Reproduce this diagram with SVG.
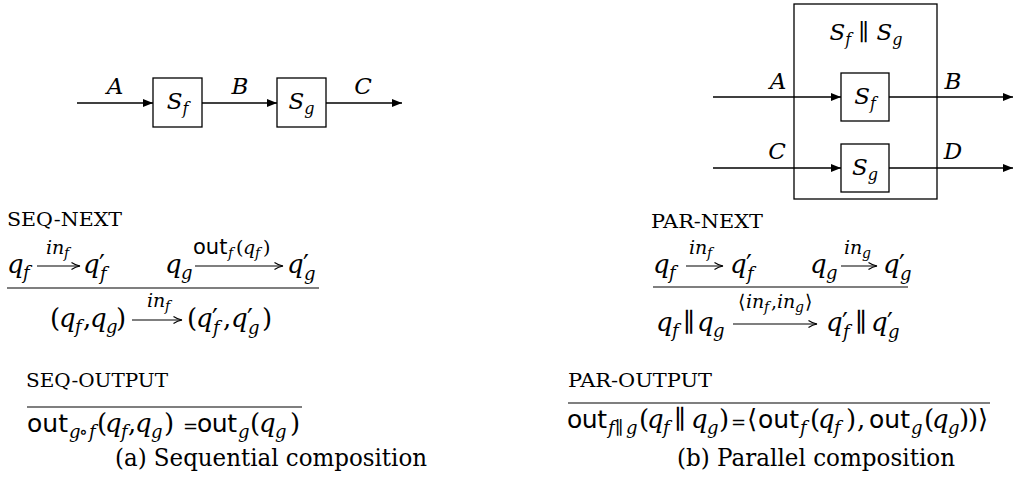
<svg xmlns="http://www.w3.org/2000/svg" width="1014" height="480" viewBox="0 0 1014 480">
<defs>
<marker id="tri" viewBox="0 0 10 8" refX="10" refY="4" markerWidth="10" markerHeight="8" markerUnits="userSpaceOnUse" orient="auto">
<path d="M0,0 L10,4 L0,8 z" fill="#000"/>
</marker>
<marker id="mar" viewBox="0 0 10 10" refX="9.5" refY="5" markerWidth="10" markerHeight="10" markerUnits="userSpaceOnUse" orient="auto">
<path d="M1,1.5 Q5,4.2 9.5,5 Q5,5.8 1,8.5" fill="none" stroke="#000" stroke-width="1.2"/>
</marker>
</defs>
<g id="seq-Sf"><rect x="153" y="78" width="49" height="49" fill="#fff" stroke="#000" stroke-width="1.3"/><text font-family="DejaVu Serif" font-style="italic" font-size="23" x="177.5" y="109" text-anchor="middle">S<tspan font-size="16" dy="5">f</tspan></text></g>
<g id="seq-Sg"><rect x="277" y="78" width="49" height="49" fill="#fff" stroke="#000" stroke-width="1.3"/><text font-family="DejaVu Serif" font-style="italic" font-size="23" x="301.5" y="109" text-anchor="middle">S<tspan font-size="16" dy="5">g</tspan></text></g>
<g id="par-box"><rect x="794" y="4" width="143" height="195" fill="none" stroke="#000" stroke-width="1.3"/><text font-family="DejaVu Serif" font-style="italic" font-size="23" x="866" y="40" text-anchor="middle">S<tspan font-size="16" dy="5">f</tspan><tspan font-style="normal" dy="-5"> &#x2225; </tspan>S<tspan font-size="16" dy="5">g</tspan></text></g>
<g id="par-Sf"><rect x="841" y="73" width="48" height="48" fill="#fff" stroke="#000" stroke-width="1.3"/><text font-family="DejaVu Serif" font-style="italic" font-size="23" x="865" y="104" text-anchor="middle">S<tspan font-size="16" dy="5">f</tspan></text></g>
<g id="par-Sg"><rect x="841" y="144" width="48" height="48" fill="#fff" stroke="#000" stroke-width="1.3"/><text font-family="DejaVu Serif" font-style="italic" font-size="23" x="865" y="175" text-anchor="middle">S<tspan font-size="16" dy="5">g</tspan></text></g>
<g id="connectors" stroke="#000" stroke-width="1.3" fill="none">
<line x1="77" y1="103" x2="153" y2="103" marker-end="url(#tri)"/>
<line x1="202" y1="103" x2="277" y2="103" marker-end="url(#tri)"/>
<line x1="326" y1="103" x2="402" y2="103" marker-end="url(#tri)"/>
<line x1="713" y1="97" x2="841" y2="97" marker-end="url(#tri)"/>
<line x1="889" y1="97" x2="1013" y2="97" marker-end="url(#tri)"/>
<line x1="713" y1="168" x2="841" y2="168" marker-end="url(#tri)"/>
<line x1="889" y1="168" x2="1013" y2="168" marker-end="url(#tri)"/>
</g>
<g id="edge-labels" font-family="DejaVu Serif" font-style="italic" font-size="23">
<text x="115" y="94" text-anchor="middle">A</text>
<text x="240" y="94" text-anchor="middle">B</text>
<text x="363" y="94" text-anchor="middle">C</text>
<text x="778" y="89" text-anchor="middle">A</text>
<text x="953" y="89" text-anchor="middle">B</text>
<text x="777" y="159" text-anchor="middle">C</text>
<text x="953" y="159" text-anchor="middle">D</text>
</g>
<g id="seq-next">
<text font-family="DejaVu Serif" font-size="18" x="7" y="226" textLength="115" lengthAdjust="spacingAndGlyphs">SEQ-NEXT</text>
<g font-family="DejaVu Serif" font-style="italic" font-size="26">
<text><tspan x="7" y="273">q</tspan><tspan font-size="18" x="23" y="279">f</tspan></text>
<text font-size="19"><tspan x="46" y="254">in</tspan><tspan font-size="14" x="64" y="258">f</tspan></text>
<text><tspan x="83" y="273">q</tspan><tspan font-style="normal" x="99" y="273">&#x2032;</tspan><tspan font-size="18" x="100" y="280">f</tspan></text>
<text><tspan x="165" y="273">q</tspan><tspan font-size="18" x="181" y="279">g</tspan></text>
<text font-size="19"><tspan font-family="DejaVu Sans" font-style="normal" font-size="21" x="193" y="254">out</tspan><tspan font-size="14" x="228" y="258">f</tspan><tspan font-style="normal" x="236" y="254">(</tspan><tspan x="243" y="254">q</tspan><tspan font-size="14" x="255" y="258">f</tspan><tspan font-style="normal" x="263" y="254">)</tspan></text>
<text><tspan x="287" y="273">q</tspan><tspan font-style="normal" x="303" y="273">&#x2032;</tspan><tspan font-size="18" x="304" y="280">g</tspan></text>
<text><tspan font-style="normal" x="50" y="327">(</tspan><tspan x="59" y="327">q</tspan><tspan font-size="18" x="75" y="333">f</tspan><tspan font-style="normal" x="83" y="327">,</tspan><tspan x="90" y="327">q</tspan><tspan font-size="18" x="106" y="333">g</tspan><tspan font-style="normal" x="116" y="327">)</tspan></text>
<text font-size="19"><tspan x="147" y="307">in</tspan><tspan font-size="14" x="165" y="311">f</tspan></text>
<text><tspan font-style="normal" x="187" y="327">(</tspan><tspan x="196" y="327">q</tspan><tspan font-style="normal" x="212" y="327">&#x2032;</tspan><tspan font-size="18" x="213" y="334">f</tspan><tspan font-style="normal" x="223" y="327">,</tspan><tspan x="231" y="327">q</tspan><tspan font-style="normal" x="247" y="327">&#x2032;</tspan><tspan font-size="18" x="248" y="334">g</tspan><tspan font-style="normal" x="262" y="327">)</tspan></text>
</g>
<g stroke="#000" stroke-width="1.2">
<line x1="37" y1="266" x2="80" y2="266" marker-end="url(#mar)"/>
<line x1="195" y1="266" x2="283" y2="266" marker-end="url(#mar)"/>
<line x1="7" y1="288" x2="319" y2="288"/>
<line x1="132" y1="320" x2="182" y2="320" marker-end="url(#mar)"/>
</g>
</g>
<g id="seq-output">
<text font-family="DejaVu Serif" font-size="18" x="26" y="387" textLength="142" lengthAdjust="spacingAndGlyphs">SEQ-OUTPUT</text>
<line x1="27" y1="407" x2="302" y2="407" stroke="#000" stroke-width="1.2"/>
<text font-family="DejaVu Serif" font-style="italic" font-size="26"><tspan font-family="DejaVu Sans" font-style="normal" font-size="25" x="27" y="432" textLength="41">out</tspan><tspan font-size="18" x="69" y="438">g</tspan><tspan font-size="18" font-style="normal" x="79" y="438">&#x2218;</tspan><tspan font-size="18" x="89" y="438">f</tspan><tspan font-style="normal" x="97" y="432">(</tspan><tspan x="105" y="432">q</tspan><tspan font-size="18" x="121" y="438">f</tspan><tspan font-style="normal" x="128" y="432">,</tspan><tspan x="135" y="432">q</tspan><tspan font-size="18" x="151" y="438">g</tspan><tspan font-style="normal" x="164" y="432">)</tspan><tspan font-family="DejaVu Sans" font-style="normal" font-size="18" x="183" y="432">=</tspan><tspan font-family="DejaVu Sans" font-style="normal" font-size="25" x="197" y="432" textLength="40">out</tspan><tspan font-size="18" x="238" y="438">g</tspan><tspan font-style="normal" x="250" y="432">(</tspan><tspan x="259" y="432">q</tspan><tspan font-size="18" x="275" y="438">g</tspan><tspan font-style="normal" x="290" y="432">)</tspan></text>
</g>
<g id="par-next">
<text font-family="DejaVu Serif" font-size="18" x="651" y="228" textLength="112" lengthAdjust="spacingAndGlyphs">PAR-NEXT</text>
<g font-family="DejaVu Serif" font-style="italic" font-size="26">
<text><tspan x="653" y="273">q</tspan><tspan font-size="18" x="669" y="279">f</tspan></text>
<text font-size="19"><tspan x="689" y="254">in</tspan><tspan font-size="14" x="707" y="258">f</tspan></text>
<text><tspan x="730" y="273">q</tspan><tspan font-style="normal" x="746" y="273">&#x2032;</tspan><tspan font-size="18" x="747" y="280">f</tspan></text>
<text><tspan x="810" y="273">q</tspan><tspan font-size="18" x="826" y="279">g</tspan></text>
<text font-size="19"><tspan x="844" y="254">in</tspan><tspan font-size="14" x="862" y="258">g</tspan></text>
<text><tspan x="883" y="273">q</tspan><tspan font-style="normal" x="899" y="273">&#x2032;</tspan><tspan font-size="18" x="900" y="280">g</tspan></text>
<text><tspan x="656" y="331">q</tspan><tspan font-size="18" x="672" y="337">f</tspan><tspan font-style="normal" x="683" y="331">&#x2225;</tspan><tspan x="697" y="331">q</tspan><tspan font-size="18" x="713" y="337">g</tspan></text>
<text font-size="19"><tspan font-style="normal" x="738" y="308">&#x27E8;</tspan><tspan x="746" y="308">in</tspan><tspan font-size="14" x="764" y="312">f</tspan><tspan font-style="normal" x="771" y="308">,</tspan><tspan x="777" y="308">in</tspan><tspan font-size="14" x="795" y="312">g</tspan><tspan font-style="normal" x="805" y="308">&#x27E9;</tspan></text>
<text><tspan x="826" y="331">q</tspan><tspan font-style="normal" x="842" y="331">&#x2032;</tspan><tspan font-size="18" x="843" y="338">f</tspan><tspan font-style="normal" x="855" y="331">&#x2225;</tspan><tspan x="871" y="331">q</tspan><tspan font-style="normal" x="887" y="331">&#x2032;</tspan><tspan font-size="18" x="888" y="338">g</tspan></text>
</g>
<g stroke="#000" stroke-width="1.2">
<line x1="686" y1="266" x2="723" y2="266" marker-end="url(#mar)"/>
<line x1="841" y1="266" x2="877" y2="266" marker-end="url(#mar)"/>
<line x1="653" y1="287" x2="908" y2="287"/>
<line x1="733" y1="324" x2="817" y2="324" marker-end="url(#mar)"/>
</g>
</g>
<g id="par-output">
<text font-family="DejaVu Serif" font-size="18" x="568" y="387" textLength="144" lengthAdjust="spacingAndGlyphs">PAR-OUTPUT</text>
<line x1="568" y1="403" x2="990" y2="403" stroke="#000" stroke-width="1.2"/>
<text font-family="DejaVu Serif" font-style="italic" font-size="26"><tspan font-family="DejaVu Sans" font-style="normal" font-size="25" x="567" y="428" textLength="40">out</tspan><tspan font-size="18" x="608" y="434">f</tspan><tspan font-size="18" font-style="normal" x="615" y="434">&#x2225;</tspan><tspan font-size="18" x="626" y="434">g</tspan><tspan font-style="normal" x="639" y="428">(</tspan><tspan x="647" y="428">q</tspan><tspan font-size="18" x="663" y="434">f</tspan><tspan font-style="normal" x="674" y="428">&#x2225;</tspan><tspan x="691" y="428">q</tspan><tspan font-size="18" x="707" y="434">g</tspan><tspan font-style="normal" x="719" y="428">)</tspan><tspan font-family="DejaVu Sans" font-style="normal" font-size="18" x="731" y="428">=</tspan><tspan font-style="normal" x="747" y="428">&#x27E8;</tspan><tspan font-family="DejaVu Sans" font-style="normal" font-size="25" x="758" y="428" textLength="41">out</tspan><tspan font-size="18" x="800" y="434">f</tspan><tspan font-style="normal" x="810" y="428">(</tspan><tspan x="818" y="428">q</tspan><tspan font-size="18" x="834" y="434">f</tspan><tspan font-style="normal" x="846" y="428">)</tspan><tspan font-style="normal" x="857" y="428">,</tspan><tspan font-family="DejaVu Sans" font-style="normal" font-size="25" x="869" y="428" textLength="41">out</tspan><tspan font-size="18" x="911" y="434">g</tspan><tspan font-style="normal" x="924" y="428">(</tspan><tspan x="932" y="428">q</tspan><tspan font-size="18" x="948" y="434">g</tspan><tspan font-style="normal" x="959" y="428">)</tspan><tspan font-style="normal" x="968" y="428">)</tspan><tspan font-style="normal" x="978" y="428">&#x27E9;</tspan></text>
</g>
<g id="captions" font-family="DejaVu Serif" font-size="25">
<text x="115" y="466" textLength="312" lengthAdjust="spacingAndGlyphs">(a) Sequential composition</text>
<text x="677" y="466" textLength="278" lengthAdjust="spacingAndGlyphs">(b) Parallel composition</text>
</g>
</svg>
